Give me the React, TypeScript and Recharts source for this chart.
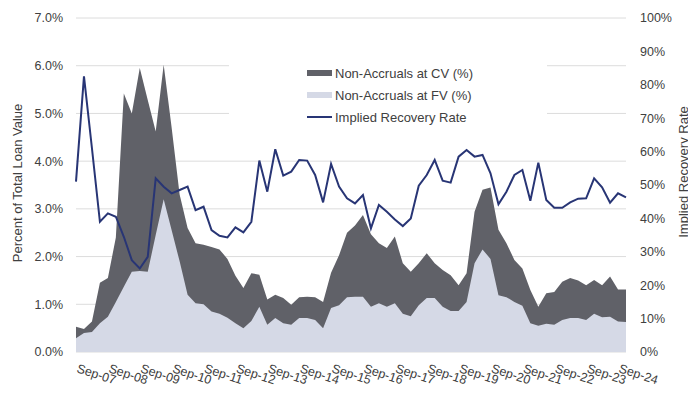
import {
  ComposedChart,
  Area,
  Line,
  XAxis,
  YAxis,
  CartesianGrid,
  Legend,
} from "recharts";

const FONT = "'Liberation Sans', Arial, sans-serif";
const TEXT = "#404040";
const CV_COLOR = "#606168";
const FV_COLOR = "#D5D9E6";
const LINE_COLOR = "#283575";

// quarterly, starting Sep-07
const MONTHS = ["Sep", "Dec", "Mar", "Jun"];
const quarters: string[] = [];
for (let i = 0; i < 70; i++) {
  const m = MONTHS[i % 4];
  const yr = 7 + Math.floor((i + 1) / 4);
  quarters.push(`${m}-${String(yr).padStart(2, "0")}`);
}

const nonAccrualCV = [
  0.53, 0.48, 0.64, 1.45, 1.55, 2.4, 5.42, 5.0, 5.95, 5.28,
  4.62, 6.02, 4.7, 3.3, 2.6, 2.28, 2.25, 2.2, 2.15, 1.95,
  1.6, 1.34, 1.65, 1.62, 1.1, 1.2, 1.13, 0.99, 1.15, 1.16,
  1.15, 1.05, 1.66, 2.03, 2.5, 2.65, 2.87, 2.47, 2.28, 2.18,
  2.42, 1.86, 1.68, 1.86, 2.07, 1.86, 1.72, 1.61, 1.4, 1.65,
  2.94, 3.4, 3.45, 2.56, 2.28, 1.93, 1.75, 1.3, 0.95, 1.23,
  1.26, 1.47, 1.55, 1.5, 1.4, 1.51, 1.4, 1.58, 1.31, 1.31,
];

const nonAccrualFV = [
  0.29, 0.4, 0.42, 0.6, 0.74, 1.05, 1.37, 1.68, 1.7, 1.68,
  2.45, 3.2, 2.55, 1.9, 1.2, 1.02, 1.0, 0.85, 0.8, 0.72,
  0.6, 0.5, 0.65, 0.95, 0.57, 0.71, 0.6, 0.57, 0.71, 0.71,
  0.67, 0.5, 0.92, 0.98, 1.15, 1.16, 1.16, 0.95, 1.02, 0.95,
  1.02, 0.8, 0.75, 0.98, 1.13, 1.13, 0.95, 0.86, 0.86, 1.05,
  1.86, 2.15, 1.95, 1.19, 1.15, 1.05, 0.97, 0.6, 0.55, 0.59,
  0.57, 0.67, 0.71, 0.71, 0.67, 0.8, 0.73, 0.74, 0.64, 0.63,
];

const recoveryRate = [
  51, 82.5, 61, 39, 41.5, 40.5, 34.5, 27.5, 25, 28.5,
  52, 49.5, 47.5, 48.5, 49.5, 42.5, 43.5, 36.5, 34.8, 34.3,
  37.3, 35.8, 39, 57.3, 48, 60.7, 52.8, 54, 57.5, 57.3,
  53, 44.8, 56.3, 49.5, 46, 44.5, 47, 37, 44, 42,
  39.7, 37.7, 40, 49.8, 53, 57.5, 51.3, 50.7, 58.5, 60.5,
  58.5, 59, 53.5, 44.2, 48, 53, 54.5, 45.3, 56.7, 45.5,
  43.2, 43.2, 44.8, 45.9, 46, 52, 49.3, 44.7, 47.5, 46.3,
];

const leftTicks = [0, 1, 2, 3, 4, 5, 6, 7];
const rightTicks = [0, 10, 20, 30, 40, 50, 60, 70, 80, 90, 100];

const data = quarters.map((q, i) => ({
  q,
  cv: nonAccrualCV[i],
  fv: nonAccrualFV[i],
  rate: recoveryRate[i],
}));

function XTick(props: any) {
  const { x, y, payload } = props;
  const ty = y + 12;
  return (
    <text
      x={x}
      y={ty}
      transform={`rotate(18, ${x}, ${ty})`}
      textAnchor="start"
      fontSize={12.5}
      fontFamily={FONT}
      fill={TEXT}
    >
      {payload.value}
    </text>
  );
}

// vertical axis title, centred on (cx, cy) inside the wrapper
function AxisTitle({ cx, cy, text }: { cx: number; cy: number; text: string }) {
  return (
    <div
      style={{
        position: "absolute",
        left: cx - 80,
        top: cy - 8,
        width: 160,
        height: 16,
        lineHeight: "16px",
        textAlign: "center",
        whiteSpace: "nowrap",
        transform: "rotate(-90deg)",
        fontFamily: FONT,
        fontSize: 13,
        color: TEXT,
        pointerEvents: "none",
      }}
    >
      {text}
    </div>
  );
}

function LegendBox() {
  const items = [
    { label: "Non-Accruals at CV (%)", color: CV_COLOR, h: 6 },
    { label: "Non-Accruals at FV (%)", color: FV_COLOR, h: 6 },
    { label: "Implied Recovery Rate", color: LINE_COLOR, h: 2 },
  ];
  return (
    <div style={{ paddingTop: 22, paddingLeft: 78 }}>
      {items.map((it) => (
        <div
          key={it.label}
          style={{ display: "flex", alignItems: "center", height: 22 }}
        >
          <div
            style={{ width: 25, height: it.h, background: it.color, marginRight: 3 }}
          />
          <span style={{ fontFamily: FONT, fontSize: 13, color: TEXT }}>{it.label}</span>
        </div>
      ))}
    </div>
  );
}

export default function App() {
  return (
    <div style={{ position: "relative", width: 688, height: 387, overflow: "hidden" }}>
      <ComposedChart
        width={688}
        height={387}
        data={data}
        margin={{ top: 10, right: 0, left: 0, bottom: 0 }}
      >
        <CartesianGrid
          yAxisId="left"
          vertical={false}
          stroke="#DCDCDC"
          strokeWidth={1}
        />
        <XAxis
          dataKey="q"
          scale="point"
          interval={3}
          tickLine={false}
          axisLine={false}
          height={43}
          tick={<XTick />}
        />
        <YAxis
          yAxisId="left"
          orientation="left"
          domain={[0, 7]}
          ticks={leftTicks}
          width={68}
          tickLine={false}
          axisLine={false}
          tickMargin={7}
          tickFormatter={(v) => `${Number(v).toFixed(1)}%`}
          tick={{ fontSize: 12.5, fontFamily: FONT, fill: TEXT }}
        />
        <YAxis
          yAxisId="right"
          orientation="right"
          domain={[0, 100]}
          ticks={rightTicks}
          width={70}
          tickLine={false}
          axisLine={false}
          tickMargin={8}
          tickFormatter={(v) => `${v}%`}
          tick={{ fontSize: 12.5, fontFamily: FONT, fill: TEXT, textAnchor: "start" }}
        />
        <Legend
          layout="vertical"
          align="center"
          verticalAlign="middle"
          width={318}
          height={98}
          wrapperStyle={{ left: 221, top: 32, background: "#fff" }}
          content={<LegendBox />}
        />
        <Area
          yAxisId="left"
          type="linear"
          dataKey="cv"
          stroke="none"
          fill={CV_COLOR}
          fillOpacity={1}
          isAnimationActive={false}
          activeDot={false}
        />
        <Area
          yAxisId="left"
          type="linear"
          dataKey="fv"
          stroke="none"
          fill={FV_COLOR}
          fillOpacity={1}
          isAnimationActive={false}
          activeDot={false}
        />
        <Line
          yAxisId="right"
          type="linear"
          dataKey="rate"
          stroke={LINE_COLOR}
          strokeWidth={2}
          dot={false}
          isAnimationActive={false}
          activeDot={false}
        />
      </ComposedChart>
      <AxisTitle cx={10} cy={175} text="Percent of Total Loan Value" />
      <AxisTitle cx={676} cy={164} text="Implied Recovery Rate" />
    </div>
  );
}
